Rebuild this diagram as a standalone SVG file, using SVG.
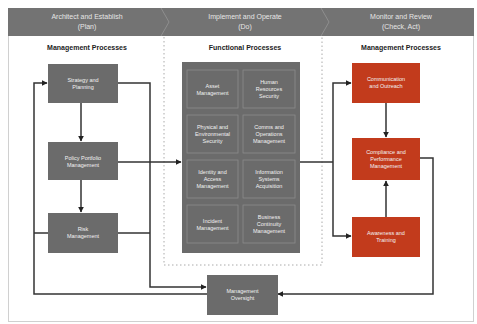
<svg xmlns="http://www.w3.org/2000/svg" width="477" height="324" viewBox="0 0 477 324">
<style>
.hdr{font-family:"Liberation Sans",Arial,sans-serif;font-size:7px;fill:#e6e6e6;text-anchor:middle}
.sub{font-family:"Liberation Sans",Arial,sans-serif;font-size:7px;font-weight:bold;fill:#222;text-anchor:middle}
.bt{font-family:"Liberation Sans",Arial,sans-serif;font-size:5.5px;fill:#f2f2f2;text-anchor:middle}
.g{fill:#6b6b6b}
.r{fill:#c23b1c}
.cell{fill:#6b6b6b;stroke:#8c8c8c;stroke-width:0.8}
.ln{fill:none;stroke:#333;stroke-width:1.5}
</style>
<defs>
<marker id="ah" viewBox="0 0 10 10" refX="9" refY="5" markerWidth="4" markerHeight="4" orient="auto">
<path d="M0,0 L10,5 L0,10 z" fill="#222"/>
</marker>
</defs>
<rect x="0" y="0" width="477" height="324" fill="#fff"/>
<rect x="8.5" y="8.5" width="465" height="313" fill="#fff" stroke="#d0d0d0" stroke-width="1"/>
<g id="header">
<rect x="8" y="8" width="466" height="28" fill="#737373"/>
<path d="M161,8 L169,22 L161,36 M321,8 L329,22 L321,36" fill="none" stroke="#8e8e8e" stroke-width="1"/>
<text class="hdr" x="87" y="19">Architect and Establish</text>
<text class="hdr" x="87" y="29">(Plan)</text>
<text class="hdr" x="245" y="19">Implement and Operate</text>
<text class="hdr" x="245" y="29">(Do)</text>
<text class="hdr" x="401" y="19">Monitor and Review</text>
<text class="hdr" x="401" y="29">(Check, Act)</text>
</g>
<path d="M164,37 V265 H322 V37" fill="none" stroke="#aaa" stroke-width="1" stroke-dasharray="1.5 2.5"/>
<text class="sub" x="87" y="50">Management Processes</text>
<text class="sub" x="245" y="50">Functional Processes</text>
<text class="sub" x="401" y="50">Management Processes</text>
<g id="connectors">
<path class="ln" d="M81,103 V141" marker-end="url(#ah)"/>
<path class="ln" d="M81,180 V212" marker-end="url(#ah)"/>
<path class="ln" d="M207,294 H34 V83 H47" marker-end="url(#ah)"/>
<path class="ln" d="M48,233 H34"/>
<path class="ln" d="M118,83 H150 V287 H206" marker-end="url(#ah)"/>
<path class="ln" d="M118,233 H150"/>
<path class="ln" d="M118,162 H181" marker-end="url(#ah)"/>
<path class="ln" d="M300,162 H333"/>
<path class="ln" d="M333,162 V83 H351" marker-end="url(#ah)"/>
<path class="ln" d="M333,162 V236 H351" marker-end="url(#ah)"/>
<path class="ln" d="M386,103 V137" marker-end="url(#ah)"/>
<path class="ln" d="M386,217 V181" marker-end="url(#ah)"/>
<path class="ln" d="M420,158 H433 V294 H278" marker-end="url(#ah)"/>
</g>
<g id="strategy"><rect class="g" x="48" y="64" width="70" height="39"/><text class="bt" x="83" y="82">Strategy and</text><text class="bt" x="83" y="89">Planning</text></g>
<g id="policy"><rect class="g" x="48" y="142" width="70" height="38"/><text class="bt" x="83" y="160">Policy Portfolio</text><text class="bt" x="83" y="167">Management</text></g>
<g id="risk"><rect class="g" x="48" y="213" width="70" height="40"/><text class="bt" x="83" y="231">Risk</text><text class="bt" x="83" y="238">Management</text></g>
<g id="functional">
<rect class="g" x="182" y="62" width="118" height="191"/>
<rect class="cell" x="187" y="70" width="51" height="38"/><rect class="cell" x="243" y="70" width="52" height="38"/>
<rect class="cell" x="187" y="115" width="51" height="38"/><rect class="cell" x="243" y="115" width="52" height="38"/>
<rect class="cell" x="187" y="160" width="51" height="38"/><rect class="cell" x="243" y="160" width="52" height="38"/>
<rect class="cell" x="187" y="205" width="51" height="38"/><rect class="cell" x="243" y="205" width="52" height="38"/>
</g>
<g id="asset"><text class="bt" x="212.5" y="88">Asset</text><text class="bt" x="212.5" y="95">Management</text></g>
<g id="hr"><text class="bt" x="269" y="84">Human</text><text class="bt" x="269" y="91">Resources</text><text class="bt" x="269" y="98">Security</text></g>
<g id="physical"><text class="bt" x="212.5" y="129">Physical and</text><text class="bt" x="212.5" y="136">Environmental</text><text class="bt" x="212.5" y="143">Security</text></g>
<g id="comms"><text class="bt" x="269" y="129">Comms and</text><text class="bt" x="269" y="136">Operations</text><text class="bt" x="269" y="143">Management</text></g>
<g id="identity"><text class="bt" x="212.5" y="174">Identity and</text><text class="bt" x="212.5" y="181">Access</text><text class="bt" x="212.5" y="188">Management</text></g>
<g id="infosys"><text class="bt" x="269" y="174">Information</text><text class="bt" x="269" y="181">Systems</text><text class="bt" x="269" y="188">Acquisition</text></g>
<g id="incident"><text class="bt" x="212.5" y="223">Incident</text><text class="bt" x="212.5" y="230">Management</text></g>
<g id="bcm"><text class="bt" x="269" y="219">Business</text><text class="bt" x="269" y="226">Continuity</text><text class="bt" x="269" y="233">Management</text></g>
<g id="communication"><rect class="r" x="352" y="63" width="68" height="40"/><text class="bt" x="386" y="81">Communication</text><text class="bt" x="386" y="88">and Outreach</text></g>
<g id="compliance"><rect class="r" x="352" y="138" width="68" height="42"/><text class="bt" x="386" y="154">Compliance and</text><text class="bt" x="386" y="161">Performance</text><text class="bt" x="386" y="168">Management</text></g>
<g id="awareness"><rect class="r" x="352" y="217" width="68" height="40"/><text class="bt" x="386" y="235">Awareness and</text><text class="bt" x="386" y="242">Training</text></g>
<g id="oversight"><rect class="g" x="207" y="275" width="71" height="40"/><text class="bt" x="242.5" y="293">Management</text><text class="bt" x="242.5" y="300">Oversight</text></g>
</svg>
